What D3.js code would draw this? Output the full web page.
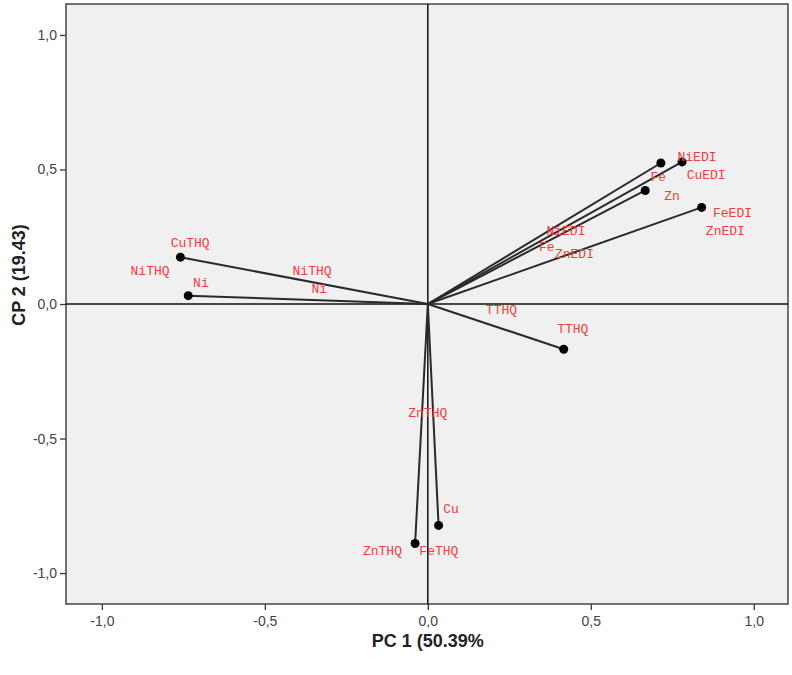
<!DOCTYPE html>
<html>
<head>
<meta charset="utf-8">
<script src="https://cdn.jsdelivr.net/npm/d3@7"></script>
<style>
  body { margin: 0; background: #fff; }
  #viz { width: 792px; height: 675px; }
</style>
</head>
<body>
<div id="viz"></div>
<script>
// loadings (PC1, PC2) - one dot + vector per variable
var varNames = ["A", "B", "C", "D", "E", "F", "G", "H", "I"];
var pc1 = [0.715, 0.78, 0.667, 0.84, -0.759, -0.735, -0.039, 0.033, 0.417];
var pc2 = [0.524, 0.528, 0.422, 0.359, 0.174, 0.031, -0.890, -0.823, -0.168];

// point labels as they sit in the plot (data coords of label start, baseline)
var labelText = ["NiEDI", "CuEDI", "Fe", "Zn", "FeEDI", "ZnEDI", "NiEDI", "Fe", "ZnEDI",
                 "CuTHQ", "NiTHQ", "Ni", "NiTHQ", "Ni", "ZnTHQ", "Cu", "ZnTHQ", "FeTHQ",
                 "TTHQ", "TTHQ"];
var labelX = [0.766, 0.794, 0.683, 0.725, 0.875, 0.853, 0.364, 0.341, 0.390,
              -0.789, -0.912, -0.720, -0.415, -0.357, -0.060, 0.047, -0.199, -0.026,
              0.178, 0.397];
var labelY = [0.530, 0.463, 0.457, 0.385, 0.325, 0.256, 0.256, 0.196, 0.170,
              0.211, 0.107, 0.064, 0.109, 0.040, -0.420, -0.776, -0.934, -0.934,
              -0.036, -0.108];

var xTicks = [-1.0, -0.5, 0.0, 0.5, 1.0];
var yTicks = [-1.0, -0.5, 0.0, 0.5, 1.0];

var margin = {top: 4, right: 4, bottom: 71, left: 66};
var dims = {width: 792 - margin.left - margin.right, height: 675 - margin.top - margin.bottom};

var svg = d3.select("#viz")
  .append("svg")
    .attr("width", 792)
    .attr("height", 675)
  .append("g")
    .attr("transform", "translate(" + margin.left + "," + margin.top + ")");

var x = d3.scaleLinear().domain([-1.11, 1.105]).range([0, dims.width]);
var y = d3.scaleLinear().domain([-1.115, 1.115]).range([dims.height, 0]);

// SPSS style: comma decimals, plain hyphen minus
var fmt = function(d) { return d3.format(".1f")(d).replace(".", ",").replace("\u2212", "-"); };

// plot background
svg.append("rect")
  .attr("width", dims.width)
  .attr("height", dims.height)
  .attr("fill", "#f0f0f0");

// axes
var xAxis = svg.append("g")
  .attr("transform", "translate(0," + dims.height + ")")
  .call(d3.axisBottom(x).tickValues(xTicks).tickFormat(fmt).tickSize(6).tickPadding(6));
var yAxis = svg.append("g")
  .call(d3.axisLeft(y).tickValues(yTicks).tickFormat(fmt).tickSize(6).tickPadding(3));
[xAxis, yAxis].forEach(function(a) {
  a.select(".domain").remove();
  a.selectAll("line").attr("stroke", "#333").attr("stroke-width", 1.3);
  a.selectAll("text")
    .attr("fill", "#444")
    .style("font-family", "Arial, 'Liberation Sans', sans-serif")
    .style("font-size", "14px");
});

// frame
svg.append("rect")
  .attr("width", dims.width)
  .attr("height", dims.height)
  .attr("fill", "none")
  .attr("stroke", "#444")
  .attr("stroke-width", 1.5);

// reference lines through the origin
svg.append("line")
  .attr("x1", 0).attr("x2", dims.width)
  .attr("y1", y(0)).attr("y2", y(0))
  .attr("stroke", "#111").attr("stroke-width", 1.5);
svg.append("line")
  .attr("x1", x(0)).attr("x2", x(0))
  .attr("y1", 0).attr("y2", dims.height)
  .attr("stroke", "#111").attr("stroke-width", 1.5);

var pts = varNames.map(function(n, i) { return {name: n, x: pc1[i], y: pc2[i]}; });

// vectors
svg.selectAll(".vec")
  .data(pts)
  .enter()
  .append("line")
    .attr("class", "vec")
    .attr("x1", x(0)).attr("y1", y(0))
    .attr("x2", function(d) { return x(d.x); })
    .attr("y2", function(d) { return y(d.y); })
    .attr("stroke", "#2a2a2a")
    .attr("stroke-width", 2);

svg.selectAll(".dot")
  .data(pts)
  .enter()
  .append("circle")
    .attr("cx", function(d) { return x(d.x); })
    .attr("cy", function(d) { return y(d.y); })
    .attr("r", 4.5)
    .attr("fill", "#000");

// labels
var labs = labelText.map(function(t, i) { return {t: t, x: labelX[i], y: labelY[i]}; });
svg.selectAll(".lab")
  .data(labs)
  .enter()
  .append("text")
    .attr("x", function(d) { return x(d.x); })
    .attr("y", function(d) { return y(d.y); })
    .attr("fill", "#f03c3c")
    .style("font-family", "'Courier New', 'Liberation Mono', monospace")
    .style("font-size", "13px")
    .text(function(d) { return d.t; });

// axis titles
svg.append("text")
  .attr("x", x(0))
  .attr("y", dims.height + 43)
  .attr("text-anchor", "middle")
  .attr("fill", "#222")
  .style("font-family", "Arial, 'Liberation Sans', sans-serif")
  .style("font-size", "18px")
  .style("font-weight", "bold")
  .text("PC 1 (50.39%");

svg.append("text")
  .attr("transform", "translate(" + (-41) + "," + (y(0) - 29) + ") rotate(-90)")
  .attr("text-anchor", "middle")
  .attr("fill", "#222")
  .style("font-family", "Arial, 'Liberation Sans', sans-serif")
  .style("font-size", "18px")
  .style("font-weight", "bold")
  .text("CP 2 (19.43)");
</script>
</body>
</html>
